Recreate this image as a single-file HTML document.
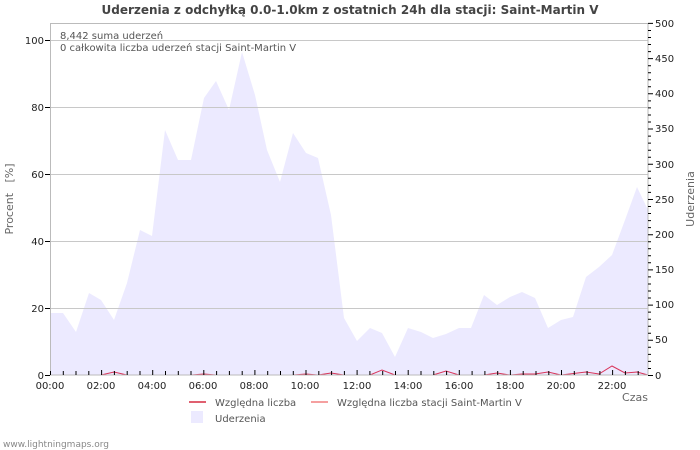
<!DOCTYPE html>
<html><head><meta charset="utf-8"><style>body{margin:0;background:#fff}svg{display:block;font-family:"DejaVu Sans","Liberation Sans",sans-serif}</style></head><body>
<svg width="700" height="450" xmlns="http://www.w3.org/2000/svg">
<text x="350" y="14" text-anchor="middle" font-size="12" font-weight="bold" fill="#444">Uderzenia z odchyłką 0.0-1.0km z ostatnich 24h dla stacji: Saint-Martin V</text>
<polygon fill="#eceaff" points="50,375 50,313 63,313 76,332 89,293 101,300 114,320 127,283 140,230 152,236 165,130 178,160 191,160 204,98 216,81 229,110 242,52 255,95 267,150 280,182 293,133 306,153 318,158 331,215 344,318 357,341 370,328 382,333 395,357 408,328 421,332 433,338 446,334 459,328 471,328 484,295 497,305 510,297 522,292 535,298 548,328 561,320 573,317 586,277 599,267 612,255 625,220 637,187 648,210 648,375"/>
<g stroke="#c8c8c8" stroke-width="1">
<line x1="50" y1="40.5" x2="648" y2="40.5"/><line x1="50" y1="107.5" x2="648" y2="107.5"/><line x1="50" y1="174.5" x2="648" y2="174.5"/><line x1="50" y1="241.5" x2="648" y2="241.5"/><line x1="50" y1="308.5" x2="648" y2="308.5"/>
</g>
<polyline fill="none" stroke="#d9345a" stroke-width="1" points="50,375 101,375 114,372 127,375 191,375 204,374 216,375 293,375 306,374 318,375 331,373 344,375 370,375 382,370 395,375 433,375 446,371 459,375 484,375 497,373 510,375 522,374 535,374 548,372 561,375 586,372 599,374 612,366 625,373 637,372 648,375"/>
<rect x="50.5" y="23.5" width="597.5" height="351.5" fill="none" stroke="#bbb"/>
<g stroke="#000" stroke-width="1">
<line x1="45" y1="40.5" x2="50" y2="40.5"/><line x1="45" y1="107.5" x2="50" y2="107.5"/><line x1="45" y1="174.5" x2="50" y2="174.5"/><line x1="45" y1="241.5" x2="50" y2="241.5"/><line x1="45" y1="308.5" x2="50" y2="308.5"/><line x1="45" y1="375.5" x2="50" y2="375.5"/>
</g>
<path stroke="#000" stroke-width="1" fill="none" d="M648 375.5h5M648 368.5h3M648 361.4h3M648 354.4h3M648 347.3h3M648 340.3h5M648 333.3h3M648 326.2h3M648 319.2h3M648 312.1h3M648 305.1h5M648 298h3M648 291h3M648 284h3M648 276.9h3M648 269.9h5M648 262.8h3M648 255.8h3M648 248.8h3M648 241.7h3M648 234.7h5M648 227.6h3M648 220.6h3M648 213.5h3M648 206.5h3M648 199.5h5M648 192.4h3M648 185.4h3M648 178.3h3M648 171.3h3M648 164.3h5M648 157.2h3M648 150.2h3M648 143.1h3M648 136.1h3M648 129h5M648 122h3M648 115h3M648 107.9h3M648 100.9h3M648 93.8h5M648 86.8h3M648 79.8h3M648 72.7h3M648 65.7h3M648 58.6h5M648 51.6h3M648 44.5h3M648 37.5h3M648 30.5h3M648 23.4h5
M50.5 375v-4M63.3 375v-4M76 375v-4M88.8 375v-4M101.6 375v-5M114.4 375v-4M127.2 375v-4M140 375v-4M152.7 375v-5M165.5 375v-4M178.3 375v-4M191 375v-4M203.8 375v-5M216.6 375v-4M229.4 375v-4M242.2 375v-4M254.9 375v-5M267.7 375v-4M280.5 375v-4M293.3 375v-4M306 375v-5M318.8 375v-4M331.6 375v-4M344.4 375v-4M357.1 375v-5M369.9 375v-4M382.7 375v-4M395.5 375v-4M408.2 375v-5M421 375v-4M433.8 375v-4M446.6 375v-4M459.3 375v-5M472.1 375v-4M484.9 375v-4M497.7 375v-4M510.4 375v-5M523.2 375v-4M536 375v-4M548.8 375v-4M561.5 375v-5M574.3 375v-4M587.1 375v-4M599.9 375v-4M612.6 375v-5M625.4 375v-4M638.2 375v-4"/>
<g font-size="10" fill="#222" text-anchor="end">
<text x="44" y="44">100</text><text x="44" y="111">80</text><text x="44" y="178">60</text><text x="44" y="245">40</text><text x="44" y="312">20</text><text x="44" y="379">0</text>
</g>
<g font-size="10" fill="#222">
<text x="655" y="27">500</text><text x="655" y="62">450</text><text x="655" y="97">400</text><text x="655" y="132">350</text><text x="655" y="168">300</text><text x="655" y="203">250</text><text x="655" y="238">200</text><text x="655" y="273">150</text><text x="655" y="308">100</text><text x="655" y="343">50</text><text x="655" y="379">0</text>
</g>
<g font-size="10" fill="#222" text-anchor="middle">
<text x="50" y="389">00:00</text><text x="101" y="389">02:00</text><text x="152" y="389">04:00</text><text x="203" y="389">06:00</text><text x="254" y="389">08:00</text><text x="305" y="389">10:00</text><text x="357" y="389">12:00</text><text x="408" y="389">14:00</text><text x="459" y="389">16:00</text><text x="510" y="389">18:00</text><text x="561" y="389">20:00</text><text x="612" y="389">22:00</text>
</g>
<text x="635" y="401" font-size="11" fill="#666" text-anchor="middle">Czas</text>
<text x="13" y="199" font-size="11" fill="#666" text-anchor="middle" transform="rotate(-90 13 199)" xml:space="preserve">Procent   [%]</text>
<text x="694" y="199" font-size="11" fill="#666" text-anchor="middle" transform="rotate(-90 694 199)">Uderzenia</text>
<text x="60" y="39" font-size="10" fill="#555">8,442 suma uderzeń</text>
<text x="60" y="51" font-size="10" fill="#555">0 całkowita liczba uderzeń stacji Saint-Martin V</text>
<line x1="189" y1="402" x2="206" y2="402" stroke="#e06070" stroke-width="2"/>
<text x="215" y="406" font-size="10" fill="#555">Względna liczba</text>
<line x1="311" y1="402" x2="328" y2="402" stroke="#f5a0a0" stroke-width="2"/>
<text x="337" y="406" font-size="10" fill="#555">Względna liczba stacji Saint-Martin V</text>
<rect x="191" y="411" width="12" height="12" fill="#eceaff"/>
<text x="215" y="422" font-size="10" fill="#555">Uderzenia</text>
<text x="3" y="447" font-size="9" fill="#888">www.lightningmaps.org</text>
</svg>
</body></html>
